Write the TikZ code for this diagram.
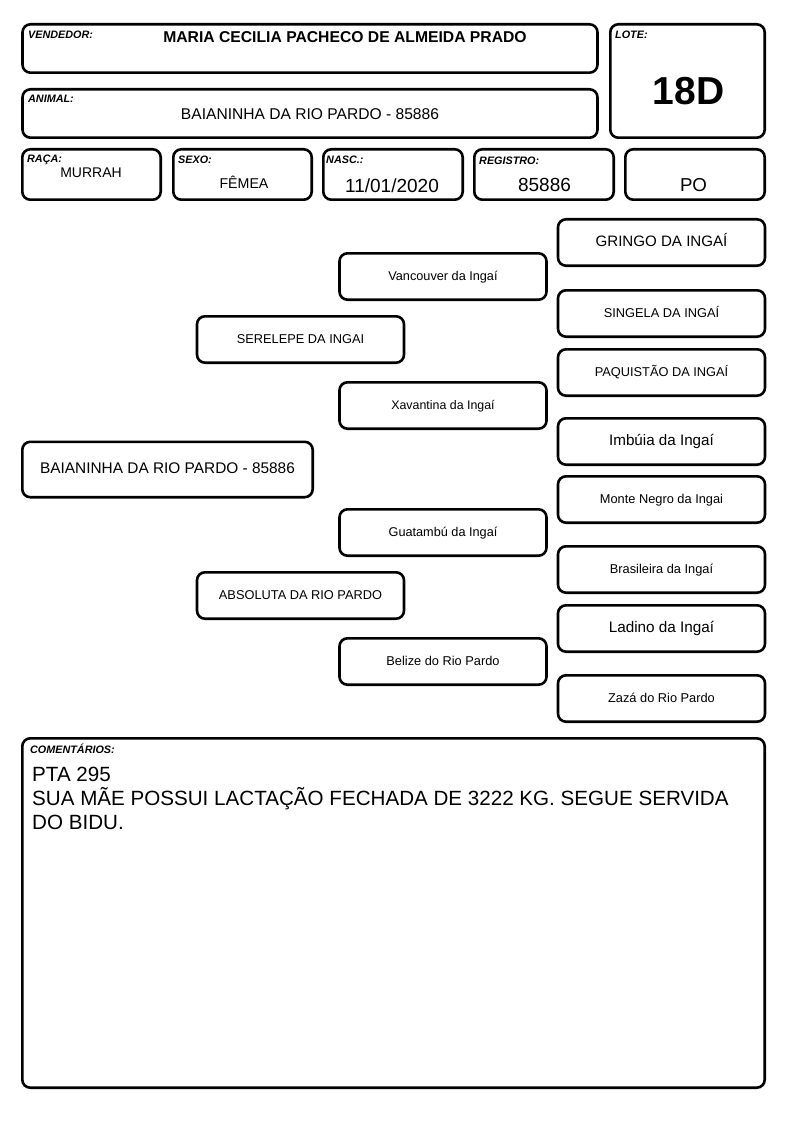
\documentclass[tikz,border=0pt]{standalone}
\usepackage{fontspec}
\setmainfont{Liberation Sans}
\usetikzlibrary{positioning}

\newcommand{\fsz}[1]{\fontsize{#1}{#1}\selectfont}

\begin{document}
\begin{tikzpicture}[x=1pt,y=-1pt,
  fieldbox/.style={shape=rectangle, draw=black, line width=2.6pt, rounded corners=8pt, inner sep=0pt},
  fieldtag/.style={anchor=base west, inner sep=0pt, font=\fsz{10.8}\bfseries\itshape},
  fieldval/.style={anchor=base, inner sep=0pt},
  pedbox/.style={fieldbox, minimum width=207pt, minimum height=46.4pt, text height=0.72em, text depth=0pt, font=\fsz{12.8}}]

\useasboundingbox (0,0) rectangle (794,1123);

% Header fields
\node [fieldbox, minimum width=575pt, minimum height=48.4pt] at (310,48.5) (vendedor) {};
\node [fieldbox, minimum width=154.4pt, minimum height=113.4pt] at (687.5,81) (lote) {};
\node [fieldbox, minimum width=575pt, minimum height=48.4pt] at (310,113.5) (animal) {};
\node [fieldbox, minimum width=138.4pt, minimum height=50.4pt] at (91.5,174.5) (raca) {};
\node [fieldbox, minimum width=138.4pt, minimum height=50.4pt] at (242.5,174.5) (sexo) {};
\node [fieldbox, minimum width=139.4pt, minimum height=50.4pt] at (393,174.5) (nasc) {};
\node [fieldbox, minimum width=139.4pt, minimum height=50.4pt] at (544,174.5) (registro) {};
\node [fieldbox, minimum width=139.4pt, minimum height=50.4pt] at (695,174.5) (classe) {};

\node [fieldtag] at (28,39) (vendedor_tag) {VENDEDOR:};
\node [fieldval, font=\fsz{15.7}\bfseries] at (345,43) (vendedor_val) {MARIA CECILIA PACHECO DE ALMEIDA PRADO};
\node [fieldtag] at (615,39) (lote_tag) {LOTE:};
\node [fieldval, font=\fsz{39}\bfseries] at (688.5,105) (lote_val) {18D};
\node [fieldtag] at (28,103) (animal_tag) {ANIMAL:};
\node [fieldval, font=\fsz{15.6}] at (310,120) (animal_val) {BAIANINHA DA RIO PARDO - 85886};
\node [fieldtag] at (27,163) (raca_tag) {RAÇA:};
\node [fieldval, font=\fsz{14}] at (91,178) (raca_val) {MURRAH};
\node [fieldtag] at (178,164) (sexo_tag) {SEXO:};
\node [fieldval, font=\fsz{14.2}] at (244,189) (sexo_val) {FÊMEA};
\node [fieldtag] at (326,164) (nasc_tag) {NASC.:};
\node [fieldval, font=\fsz{19}] at (392,193) (nasc_val) {11/01/2020};
\node [fieldtag] at (479,165) (registro_tag) {REGISTRO:};
\node [fieldval, font=\fsz{19}] at (544.5,192) (registro_val) {85886};
\node [fieldval, font=\fsz{18.7}] at (693.5,192) (classe_val) {PO};

% Pedigree
\node [fieldbox, minimum width=290.4pt, minimum height=55.4pt, text height=0.72em, text depth=0pt, font=\fsz{15.4}] at (167.5,469.5) (baianinha) {BAIANINHA DA RIO PARDO - 85886};

\node [pedbox] at (300.5,339.5) (serelepe) {SERELEPE DA INGAI};
\node [pedbox] at (300.5,595.5) (absoluta) {ABSOLUTA DA RIO PARDO};

\node [pedbox, font=\fsz{12.7}] at (443,276.5) (vancouver) {Vancouver da Ingaí};
\node [pedbox, font=\fsz{12.4}] at (443,405.5) (xavantina) {Xavantina da Ingaí};
\node [pedbox, font=\fsz{12.7}] at (443,532.5) (guatambu) {Guatambú da Ingaí};
\node [pedbox] at (443,661.5) (belize) {Belize do Rio Pardo};

\node [pedbox, font=\fsz{15.1}] at (661.5,242.5) (gringo) {GRINGO DA INGAÍ};
\node [pedbox] at (661.5,313.5) (singela) {SINGELA DA INGAÍ};
\node [pedbox] at (661.5,372.5) (paquistao) {PAQUISTÃO DA INGAÍ};
\node [pedbox, font=\fsz{15.2}] at (661.5,441.5) (imbuia) {Imbúia da Ingaí};
\node [pedbox] at (661.5,499.5) (montenegro) {Monte Negro da Ingai};
\node [pedbox] at (661.5,569.5) (brasileira) {Brasileira da Ingaí};
\node [pedbox, font=\fsz{15.3}] at (661.5,628.5) (ladino) {Ladino da Ingaí};
\node [pedbox] at (661.5,698.5) (zaza) {Zazá do Rio Pardo};

% Comments
\node [fieldbox, minimum width=742.4pt, minimum height=349.4pt] at (393.5,913) (comentarios) {};
\node [fieldtag] at (30,753) (comentarios_tag) {COMENTÁRIOS:};
\node [anchor=north west, inner sep=0pt, align=left, font=\fontsize{20.6}{24}\selectfont] at (32,766.5) (comentarios_val) {PTA 295\\SUA MÃE POSSUI LACTAÇÃO FECHADA DE 3222 KG. SEGUE SERVIDA\\DO BIDU.};

\end{tikzpicture}
\end{document}
